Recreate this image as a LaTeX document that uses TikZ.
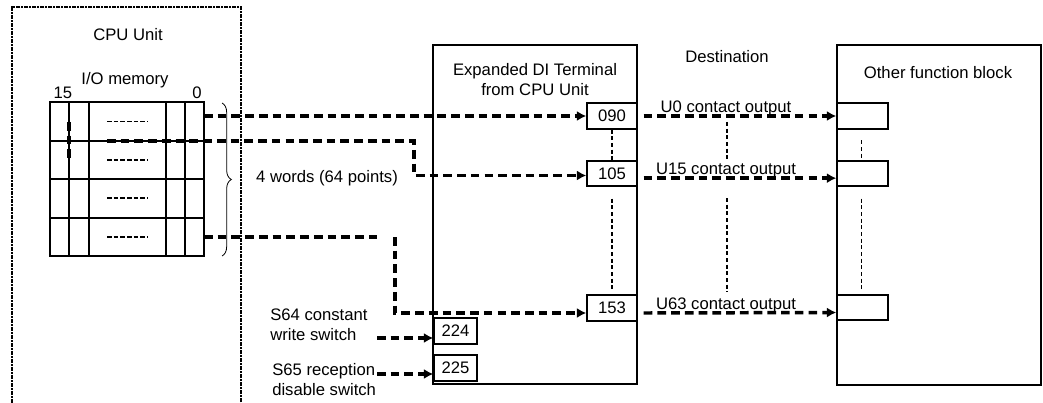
\documentclass[tikz,border=0pt]{standalone}
\usepackage{fontspec}
\setmainfont{Liberation Sans}
\usetikzlibrary{arrows.meta,decorations.pathreplacing,fit}
\begin{document}
\begin{tikzpicture}[x=0.75pt,y=-0.75pt,
  font=\fontsize{12.5}{15}\selectfont,
  box/.style={draw, line width=1.1pt, inner sep=0pt},
  cpubox/.style={draw, line width=1pt, dash pattern=on 1.5pt off 0.5pt, inner sep=0pt},
  gridbox/.style={draw, line width=0.8pt, inner sep=0pt},
  gridline/.style={line width=0.8pt},
  fine/.style={line width=1.1pt, dash pattern=on 3pt off 2pt},
  rowdash/.style={line width=1.4pt, dash pattern=on 3.4pt off 1.6pt},
  dln/.style={line width=2.6pt, dash pattern=on 6.5pt off 3.8pt},
  dl/.style={dln, -{Latex[length=7pt,width=7.5pt]}},
  txt/.style={inner sep=0pt}]
\clip (0,0) rectangle (1043,403);
% CPU unit
\node[cpubox, fit={(12,7) (241,440)}] (cpu) {};
\node[txt] (cputitle) at (128,35) {CPU Unit};
\node[txt] (iomem) at (125,80) {I/O memory};
\node[txt] (b15) at (63,93) {15};
\node[txt] (b0) at (197,93) {0};
\node[gridbox, fit={(50,102) (204,256)}] (grid) {};
\foreach \y in {141,179,218} \draw[gridline] (50,\y) -- (204,\y);
\foreach \x in {69,89,166,185} \draw[gridline] (\x,102) -- (\x,256);
\foreach \y in {121.5,160,198,237} \draw[rowdash] (107,\y) -- (148,\y);
\draw[dln] (69,122) -- (69,160);
\draw[line width=0.6pt, decorate, decoration={brace, amplitude=7pt}] (222,103) -- (222,256);
\node[txt] (words) at (327,178) {4 words (64 points)};
% DI terminal
\node[box, fit={(433,45) (637,384)}] (di) {};
\node[txt, align=center] (dititle) at (535,80) {Expanded DI Terminal\\from CPU Unit};
\node[box, fit={(587,103) (637,129)}, label={[txt]center:090}] (b090) {};
\node[box, fit={(587,161) (637,186)}, label={[txt]center:105}] (b105) {};
\node[box, fit={(587,295) (637,321)}, label={[txt]center:153}] (b153) {};
\node[box, fit={(434,318) (477,344)}, label={[txt]center:224}] (b224) {};
\node[box, fit={(434,355) (477,381)}, label={[txt]center:225}] (b225) {};
\node[txt, align=left, anchor=west] (s64) at (270,325) {S64 constant\\write switch};
\node[txt, align=left, anchor=west] (s65) at (272,380) {S65 reception\\disable switch};
% Other function block
\node[box, fit={(837,45) (1041,385)}] (other) {};
\node[txt] (othertitle) at (938,73) {Other function block};
\node[box, fit={(837,103) (888,129)}] (o1) {};
\node[box, fit={(837,161) (888,186)}] (o2) {};
\node[box, fit={(837,295) (888,320)}] (o3) {};
\node[txt] (dest) at (727,57) {Destination};
% connectors from CPU
\coordinate (s1) at (204,116);
\draw[dl] (s1) -- (s1 -| b090.west);
\coordinate (s2) at (107,141);
\coordinate (k2) at (414,141);
\draw[dl] (s2) -- (k2) |- ([yshift=-1.5pt]b105.west);
\coordinate (s3) at (204,237);
\coordinate (e3) at (377,237);
\coordinate (k3) at (395,237);
\draw[dln] (s3) -- (e3);
\draw[dl] (k3) |- ([yshift=-3.75pt]b153.west);
\coordinate (c64) at (377,338);
\draw[dl] (c64) -- (c64 -| b224.west);
\coordinate (c65) at (377,374);
\draw[dl] (c65) -- (c65 -| b225.west);
% outputs
\draw[dl] ([xshift=4.5pt]b090.east) -- (o1.west);
\draw[dl] ([xshift=4.5pt,yshift=-3.5pt]b105.east) -- ([yshift=-3.5pt]o2.west);
\draw[dl] ([xshift=4.5pt,yshift=-3.75pt]b153.east) -- ([yshift=-3.75pt]o3.west);
\node[txt] (u0) at (726,108) {U0 contact output};
\node[txt] (u15) at (726,170) {U15 contact output};
\node[txt] (u63) at (726,305) {U63 contact output};
% dotted continuation lines
\draw[fine] (b090.south) -- (b105.north);
\draw[fine] ([yshift=-9pt]b105.south) -- ([yshift=2.25pt]b153.north);
\draw[fine] (727,122) -- (727,160);
\draw[fine] (727,198) -- (727,292);
\draw[fine] ([xshift=-0.75pt,yshift=-8pt]o1.south) -- ([xshift=-0.75pt]o2.north);
\draw[fine] ([xshift=-0.75pt,yshift=-9pt]o2.south) -- ([xshift=-0.75pt,yshift=2.25pt]o3.north);
\end{tikzpicture}
\end{document}
